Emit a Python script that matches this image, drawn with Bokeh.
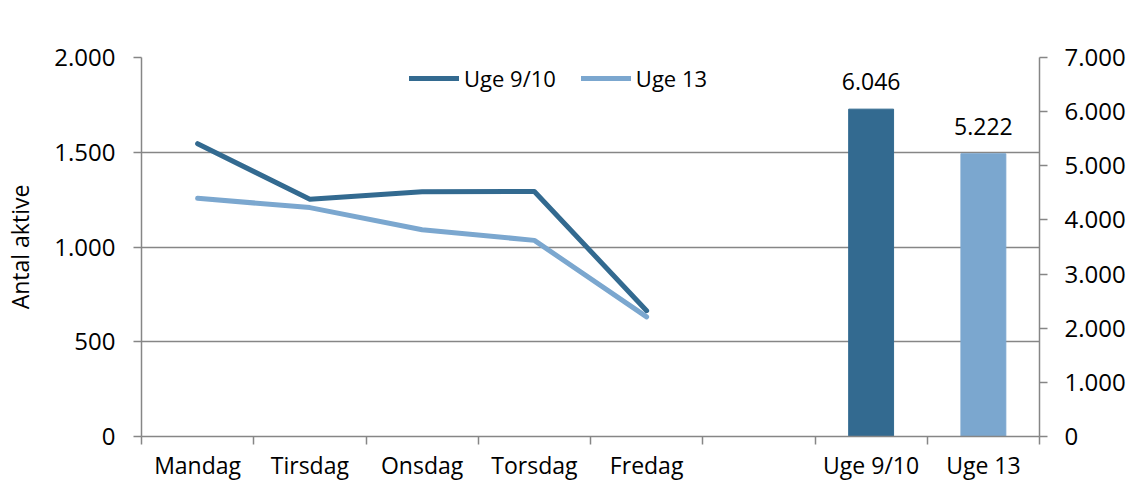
from bokeh.plotting import figure
from bokeh.models import (FactorRange, Range1d, LinearAxis, CategoricalAxis, FixedTicker,
                          ColumnDataSource, LabelSet, Legend, LegendItem)
from bokeh.core.properties import value
from bokeh.embed import file_html
from bokeh.resources import INLINE

# ---- data ----
days = ["Mandag", "Tirsdag", "Onsdag", "Torsdag", "Fredag"]
weeks = ["Uge 9/10", "Uge 13"]
uge_9_10 = [1545, 1252, 1292, 1293, 664]
uge_13 = [1257, 1208, 1091, 1035, 631]
totals = [6046, 5222]
left_ticks = [0, 500, 1000, 1500, 2000]
right_ticks = [0, 1000, 2000, 3000, 4000, 5000, 6000, 7000]
y_title = "Antal aktive"

cats = days + [" "] + weeks

def dk(v):
    return f"{v:,}".replace(",", ".")

FONT = "Open Sans"
GRAY = "#868686"
DARK = "#336A90"
LIGHT = "#7BA7CF"

p = figure(x_range=FactorRange(*cats), y_range=Range1d(0, 2000),
           frame_width=898, frame_height=379,
           min_border_left=141, min_border_right=80, min_border_top=57, min_border_bottom=46,
           x_axis_location=None, toolbar_location=None, output_backend="svg")
p.outline_line_color = None
p.extra_y_ranges = {"right": Range1d(0, 7000)}

# bottom tick axis at category boundaries (synthetic coordinates of the factor range)
tick_axis = LinearAxis(ticker=FixedTicker(ticks=list(range(len(cats) + 1))),
                       major_label_text_font_size="0px", major_label_standoff=0,
                       major_tick_out=8, major_tick_in=0, minor_tick_out=0, minor_tick_in=0,
                       axis_line_color=GRAY, axis_line_width=1.5,
                       major_tick_line_color=GRAY, major_tick_line_width=1.5)
p.add_layout(tick_axis, "below")
label_axis = CategoricalAxis(axis_line_color=None, major_tick_line_color=None,
                             major_tick_out=0, major_tick_in=0, major_label_standoff=4,
                             major_label_text_font=FONT, major_label_text_font_size="23px",
                             major_label_text_color="#000000")
p.add_layout(label_axis, "below")

# left axis
ya = p.yaxis[0]
ya.ticker = FixedTicker(ticks=left_ticks)
ya.major_label_overrides = {v: dk(v) for v in left_ticks}
ya.major_label_text_font = FONT
ya.major_label_text_font_size = "24px"
ya.major_label_text_color = "#000000"
ya.major_label_standoff = 18
ya.major_tick_out = 8
ya.major_tick_in = 0
ya.minor_tick_out = 0
ya.minor_tick_in = 0
ya.axis_line_color = GRAY
ya.axis_line_width = 1.5
ya.major_tick_line_color = GRAY
ya.major_tick_line_width = 1.5
ya.axis_label = y_title
ya.axis_label_standoff = 15
ya.axis_label_text_font = FONT
ya.axis_label_text_font_size = "23px"
ya.axis_label_text_font_style = "normal"
ya.axis_label_text_color = "#000000"

# right axis
ra = LinearAxis(y_range_name="right", ticker=FixedTicker(ticks=right_ticks),
                major_label_overrides={v: dk(v) for v in right_ticks},
                major_label_text_font=FONT, major_label_text_font_size="24px",
                major_label_text_color="#000000", major_label_standoff=17,
                major_tick_out=8, major_tick_in=0, minor_tick_out=0, minor_tick_in=0,
                axis_line_color=GRAY, axis_line_width=1.5,
                major_tick_line_color=GRAY, major_tick_line_width=1.5)
p.add_layout(ra, "right")

p.xgrid.visible = False
p.ygrid.ticker = FixedTicker(ticks=left_ticks)
p.ygrid.grid_line_color = GRAY
p.ygrid.grid_line_width = 1.5

# bars (right axis)
bar_src = ColumnDataSource(dict(x=weeks, top=totals, color=[DARK, LIGHT],
                                label=[dk(v) for v in totals]))
p.vbar(x="x", top="top", width=0.4, color="color", source=bar_src, y_range_name="right")
p.add_layout(LabelSet(x="x", y="top", text="label", source=bar_src, y_range_name="right",
                      text_align="center", text_baseline="alphabetic", y_offset=19,
                      text_font=value(FONT), text_font_size=value("23px"),
                      text_color="#000000"))

# lines (left axis)
r1 = p.line(days, uge_9_10, line_color=DARK, line_width=5, line_cap="round", line_join="round")
r2 = p.line(days, uge_13, line_color=LIGHT, line_width=5, line_cap="round", line_join="round")

# legend kept inside the frame (just below its top edge) so it is not clipped
legend = Legend(items=[LegendItem(label="Uge 9/10", renderers=[r1]),
                       LegendItem(label="Uge 13", renderers=[r2])],
                orientation="horizontal", location=(268, 343),
                margin=0, padding=0, spacing=25, label_standoff=5,
                glyph_width=50, glyph_height=20, label_height=20,
                label_text_font=FONT, label_text_font_size="22px",
                label_text_color="#000000", border_line_color=None,
                background_fill_alpha=0)
p.add_layout(legend, "center")

open("out.html", "w").write(file_html(p, INLINE))
